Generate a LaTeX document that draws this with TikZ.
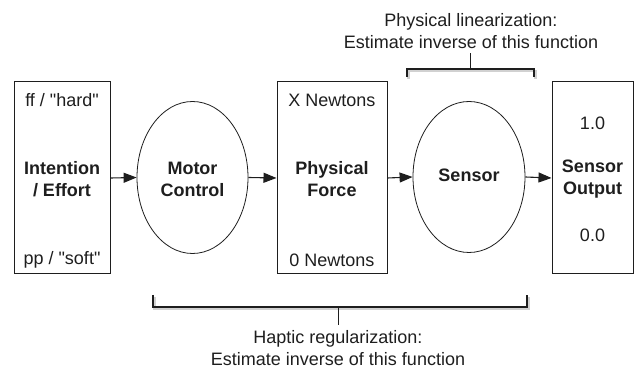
\documentclass[tikz,border=0pt]{standalone}
\usepackage{fontspec}
\setmainfont{Liberation Sans}
\usetikzlibrary{arrows.meta,shapes.geometric}
\definecolor{ink}{HTML}{1E1E1E}
\begin{document}
\begin{tikzpicture}[x=1pt,y=-1pt,
  every node/.style={text=ink,font=\fontsize{18}{22}\selectfont},
  blockbox/.style={draw=ink,line width=1pt,minimum height=192pt,inner sep=0pt},
  blockell/.style={draw=ink,line width=0.8pt,ellipse,inner sep=0pt},
  lbl/.style={inner sep=0pt,align=center},
  blbl/.style={inner sep=0pt,align=center,font=\fontsize{18}{22}\selectfont\bfseries},
  flow/.style={draw=ink,line width=1.1pt,-{Triangle[length=13pt,width=10pt]}},
  bracket/.style={draw=ink,line width=2pt},
  bshadow/.style={draw=black!18,line width=2.5pt},
  stem/.style={draw=ink,line width=0.9pt}]
\useasboundingbox (0,0) rectangle (635,371);
% blocks
\node[blockbox,minimum width=96pt] (b1) at (62,178) {};
\node[blockbox,minimum width=110pt] (b2) at (332,178) {};
\node[blockbox,minimum width=81pt] (b3) at (592.5,178) {};
\node[blockell,minimum width=111pt,minimum height=152pt] (e1) at (192.5,177.5) {};
\node[blockell,minimum width=112pt,minimum height=151pt] (e2) at (469,177) {};
% labels
\node[lbl] (t1a) at (62,100) {ff / \textquotedbl hard\textquotedbl};
\node[blbl] (t1b) at (62,179) {Intention\\/ Effort};
\node[lbl] (t1c) at (62,260) {pp / \textquotedbl soft\textquotedbl};
\node[blbl] (t2) at (192.5,179) {Motor\\Control};
\node[lbl] (t3a) at (332,100) {X Newtons};
\node[blbl] (t3b) at (332,179) {Physical\\Force};
\node[lbl] (t3c) at (332,260) {0 Newtons};
\node[blbl] (t4) at (469,175) {Sensor};
\node[lbl] (t5a) at (592.5,123) {1.0};
\node[blbl] (t5b) at (592.5,179) {Sensor\\Output};
\node[lbl] (t5c) at (592.5,235) {0.0};
% flow arrows
\draw[flow] (b1.east) -- (e1.west);
\draw[flow] (e1.east) -- (b2.west);
\draw[flow] (b2.east) -- (e2.west);
\draw[flow] (e2.east) -- (b3.west);
% top bracket
\node[lbl] (top) at (471,31) {Physical linearization:\\Estimate inverse of this function};
\coordinate (tl) at (407,77);
\coordinate (tr) at (534,77);
\coordinate (tm) at (470,69);
\draw[bshadow] ([shift={(1.5,2)}]tl) |- ([shift={(1.5,2)}]tm) -| ([shift={(1.5,2)}]tr);
\draw[bracket] (tl) |- (tm) -| (tr);
\draw[stem] (tm) -- (470,53);
% bottom bracket
\node[lbl] (bot) at (338,348) {Haptic regularization:\\Estimate inverse of this function};
\coordinate (bl) at (153,295);
\coordinate (br) at (527,295);
\coordinate (bm) at (338,307);
\draw[bshadow] ([shift={(1.5,2)}]bl) |- ([shift={(1.5,2)}]bm) -| ([shift={(1.5,2)}]br);
\draw[bracket] (bl) |- (bm) -| (br);
\draw[stem] (bm) -- (338,325);
\end{tikzpicture}
\end{document}
